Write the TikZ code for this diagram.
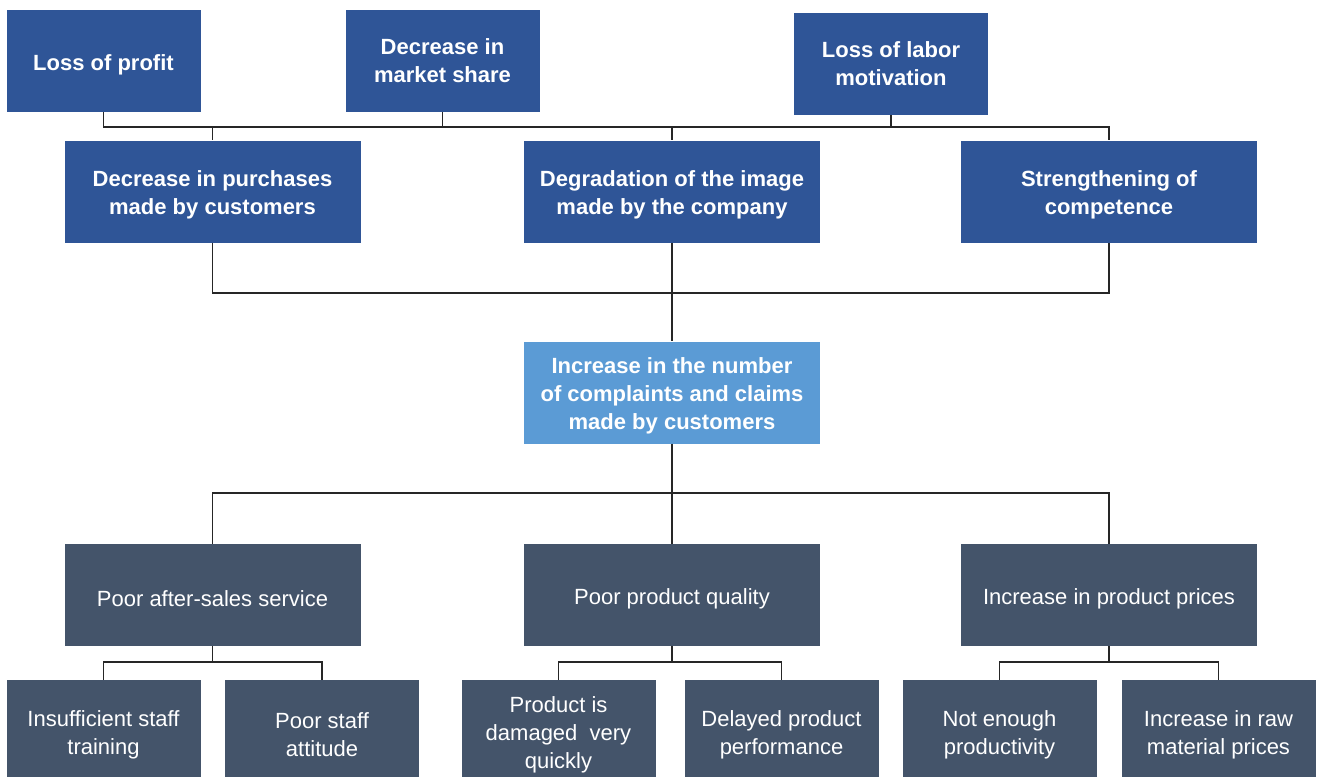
\documentclass[tikz,border=0pt]{standalone}
\usepackage{fontspec}
\setmainfont{Liberation Sans}
\usetikzlibrary{positioning}

\definecolor{effectblue}{HTML}{2F5597}
\definecolor{problemblue}{HTML}{5B9BD5}
\definecolor{causeslate}{HTML}{44546A}

\newcommand{\upstrut}{\rule{0pt}{23pt}}

\begin{document}
\begin{tikzpicture}[x=1pt,y=-1pt,
  box/.style={rectangle, text=white, align=center, inner sep=0pt,
    font=\fontsize{22}{28}\selectfont,
    execute at begin node={\upstrut}},
  effect/.style={box, fill=effectblue, font=\fontsize{22}{28}\selectfont\bfseries},
  problem/.style={effect, fill=problemblue},
  cause/.style={box, fill=causeslate},
  small/.style={minimum width=194pt, minimum height=102pt},
  wide/.style={minimum width=296pt, minimum height=102pt},
  link/.style={draw=black!85, line width=1.6pt}]

\useasboundingbox (0,0) rectangle (1319,776);

% effects
\node[effect, small] (LP) at (103.5,61)  {Loss of profit};
\node[effect, small] (MS) at (442.5,61)  {Decrease in\\market share};
\node[effect, small] (LM) at (891,64)    {Loss of labor\\motivation};
\node[effect, wide]  (DP) at (212.5,191.5) {\upstrut Decrease in purchases\\made by customers};
\node[effect, wide]  (DI) at (672,191.5)   {\upstrut Degradation of the image\\made by the company};
\node[effect, wide]  (SC) at (1109,191.5)  {\upstrut Strengthening of\\competence};

% central problem
\node[problem, wide] (CC) at (672,392.5) {\upstrut Increase in the number\\of complaints and claims\\made by customers};

% causes
\node[cause, wide] (PA) at (212.5,595) {Poor after-sales service};
\node[cause, wide] (PQ) at (672,595)   {Poor product quality};
\node[cause, wide] (PP) at (1109,595)  {Increase in product prices};

\node[cause, small] (IS) at (103.5,731) {\upstrut Insufficient staff\\training};
\node[cause, small] (PS) at (322,731)   {\upstrut Poor staff\\attitude};
\node[cause, small] (PD) at (558.5,731) {\upstrut Product is\\damaged\ \ very\\quickly};
\node[cause, small] (DL) at (781.5,731) {\upstrut Delayed product\\performance};
\node[cause, small] (NE) at (999.5,731) {\upstrut Not enough\\productivity};
\node[cause, small] (RM) at (1218.5,731) {\upstrut Increase in raw\\material prices};

% bus lines
\coordinate (topbus) at (0,127);
\coordinate (midbus) at (0,293);
\coordinate (lowbus) at (0,493);

\draw[link] (LP.south) -- (LP.south |- topbus) -- (SC.north |- topbus) -- (SC.north);
\draw[link] (MS.south) -- (MS.south |- topbus);
\draw[link] (LM.south) -- (LM.south |- topbus);
\draw[link] (DP.north |- topbus) -- (DP.north);
\draw[link] (DI.north |- topbus) -- (DI.north);

\draw[link] (DP.south) -- (DP.south |- midbus) -- (SC.south |- midbus) -- (SC.south);
\draw[link] (DI.south) -- (CC.north);

\draw[link] (PA.north) -- (PA.north |- lowbus) -- (PP.north |- lowbus) -- (PP.north);
\draw[link] (CC.south) -- (PQ.north);

\foreach \p/\a/\b in {PA/IS/PS, PQ/PD/DL, PP/NE/RM}{
  \draw[link] (\a.north) -- ++(0,-18) -| (\b.north);
  \draw[link] (\p.south) -- ++(0,17);
}
\end{tikzpicture}
\end{document}
